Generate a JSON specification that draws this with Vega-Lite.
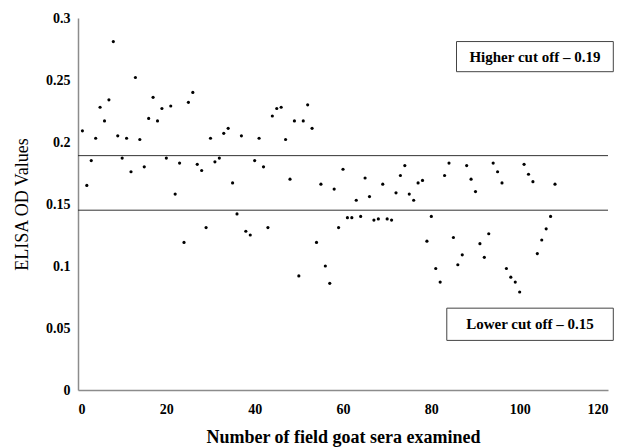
{
  "$schema": "https://vega.github.io/schema/vega-lite/v6.json",
  "width": 530,
  "height": 372,
  "autosize": {"type": "none"},
  "padding": {"left": 78, "top": 18, "right": 13, "bottom": 58},
  "background": "white",
  "config": {
    "view": {"stroke": null},
    "font": "Liberation Serif",
    "axis": {
      "grid": false,
      "ticks": false,
      "domainColor": "#8c8c8c",
      "domainWidth": 1.5,
      "labelFont": "Liberation Serif",
      "labelFontWeight": "bold",
      "labelFontSize": 14,
      "labelColor": "#000",
      "titleFont": "Liberation Serif",
      "titleFontSize": 18,
      "titleColor": "#000"
    }
  },
  "datasets": {
    "pts": [
      {"n":1,"od":0.209},{"n":2,"od":0.165},{"n":3,"od":0.185},{"n":4,"od":0.203},{"n":5,"od":0.228},
      {"n":6,"od":0.217},{"n":7,"od":0.234},{"n":8,"od":0.281},{"n":9,"od":0.205},{"n":10,"od":0.187},
      {"n":11,"od":0.203},{"n":12,"od":0.176},{"n":13,"od":0.252},{"n":14,"od":0.202},{"n":15,"od":0.180},
      {"n":16,"od":0.219},{"n":17,"od":0.236},{"n":18,"od":0.217},{"n":19,"od":0.227},{"n":20,"od":0.187},
      {"n":21,"od":0.229},{"n":22,"od":0.158},{"n":23,"od":0.183},{"n":24,"od":0.119},{"n":25,"od":0.232},
      {"n":26,"od":0.240},{"n":27,"od":0.182},{"n":28,"od":0.177},{"n":29,"od":0.131},{"n":30,"od":0.203},
      {"n":31,"od":0.184},{"n":32,"od":0.187},{"n":33,"od":0.207},{"n":34,"od":0.211},{"n":35,"od":0.167},
      {"n":36,"od":0.142},{"n":37,"od":0.205},{"n":38,"od":0.128},{"n":39,"od":0.125},{"n":40,"od":0.185},
      {"n":41,"od":0.203},{"n":42,"od":0.180},{"n":43,"od":0.131},{"n":44,"od":0.221},{"n":45,"od":0.227},
      {"n":46,"od":0.228},{"n":47,"od":0.202},{"n":48,"od":0.170},{"n":49,"od":0.217},{"n":50,"od":0.092},
      {"n":51,"od":0.217},{"n":52,"od":0.230},{"n":53,"od":0.211},{"n":54,"od":0.119},{"n":55,"od":0.166},
      {"n":56,"od":0.100},{"n":57,"od":0.086},{"n":58,"od":0.162},{"n":59,"od":0.131},{"n":60,"od":0.178},
      {"n":61,"od":0.139},{"n":62,"od":0.139},{"n":63,"od":0.153},{"n":64,"od":0.140},{"n":65,"od":0.171},
      {"n":66,"od":0.156},{"n":67,"od":0.137},{"n":68,"od":0.138},{"n":69,"od":0.166},{"n":70,"od":0.138},
      {"n":71,"od":0.137},{"n":72,"od":0.159},{"n":73,"od":0.173},{"n":74,"od":0.181},{"n":75,"od":0.158},
      {"n":76,"od":0.153},{"n":77,"od":0.167},{"n":78,"od":0.169},{"n":79,"od":0.120},{"n":80,"od":0.140},
      {"n":81,"od":0.098},{"n":82,"od":0.087},{"n":83,"od":0.173},{"n":84,"od":0.183},{"n":85,"od":0.123},
      {"n":86,"od":0.101},{"n":87,"od":0.109},{"n":88,"od":0.181},{"n":89,"od":0.170},{"n":90,"od":0.160},
      {"n":91,"od":0.118},{"n":92,"od":0.107},{"n":93,"od":0.126},{"n":94,"od":0.183},{"n":95,"od":0.176},
      {"n":96,"od":0.167},{"n":97,"od":0.098},{"n":98,"od":0.091},{"n":99,"od":0.087},{"n":100,"od":0.079},
      {"n":101,"od":0.182},{"n":102,"od":0.174},{"n":103,"od":0.168},{"n":104,"od":0.110},{"n":105,"od":0.121},
      {"n":106,"od":0.130},{"n":107,"od":0.140},{"n":108,"od":0.166}
    ],
    "cuts": [
      {"label": "Higher cut off – 0.19", "od": 0.189, "x1": 85.7, "x2": 121.2, "y1": 0.2567, "y2": 0.281, "xm": 103.45, "ym": 0.2685},
      {"label": "Lower cut off – 0.15", "od": 0.145, "x1": 83.5, "x2": 121.2, "y1": 0.040, "y2": 0.066, "xm": 102.35, "ym": 0.053}
    ]
  },
  "layer": [
    {
      "data": {"name": "cuts"},
      "mark": {"type": "rule", "color": "#333", "strokeWidth": 1},
      "encoding": {
        "y": {"field": "od", "type": "quantitative", "scale": {"domain": [0, 0.3], "nice": false}}
      }
    },
    {
      "data": {"name": "pts"},
      "mark": {"type": "point", "filled": true, "color": "#000", "size": 10, "opacity": 1},
      "encoding": {
        "x": {"field": "n", "type": "quantitative", "scale": {"domain": [0, 120], "nice": false},
              "axis": {"values": [0, 20, 40, 60, 80, 100, 120], "labelPadding": 12, "title": "Number of field goat sera examined", "titleFontWeight": "bold", "titlePadding": 12}},
        "y": {"field": "od", "type": "quantitative", "scale": {"domain": [0, 0.3], "nice": false},
              "axis": {"values": [0, 0.05, 0.1, 0.15, 0.2, 0.25, 0.3], "format": "~g", "labelPadding": 8, "title": "ELISA OD Values", "titleFontWeight": "normal", "titlePadding": 14}}
      }
    },
    {
      "data": {"name": "cuts"},
      "mark": {"type": "rect", "fill": "white", "stroke": "#444", "strokeWidth": 1},
      "encoding": {
        "x": {"field": "x1", "type": "quantitative"},
        "x2": {"field": "x2"},
        "y": {"field": "y1", "type": "quantitative"},
        "y2": {"field": "y2"}
      }
    },
    {
      "data": {"name": "cuts"},
      "mark": {"type": "text", "font": "Liberation Serif", "fontWeight": "bold", "fontSize": 15, "color": "#000", "align": "center", "baseline": "middle"},
      "encoding": {
        "x": {"field": "xm", "type": "quantitative"},
        "y": {"field": "ym", "type": "quantitative"},
        "text": {"field": "label"}
      }
    }
  ]
}
